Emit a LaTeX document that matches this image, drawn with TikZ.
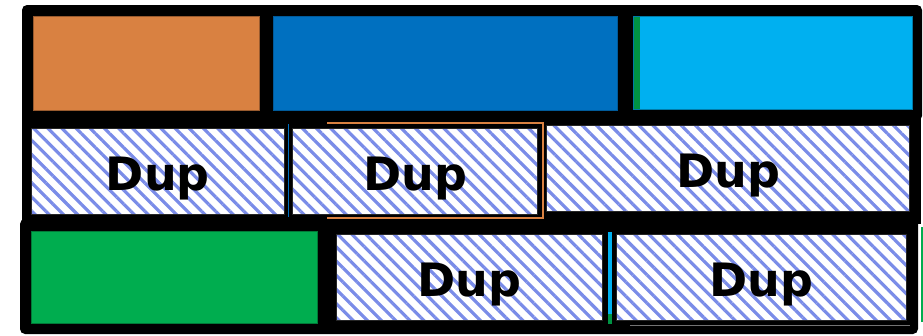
\documentclass[tikz,border=0pt]{standalone}
\usepackage{fontspec}
\setmainfont{DejaVu Sans}
\usetikzlibrary{fit,patterns.meta}
\definecolor{cOrange}{RGB}{217,129,65}
\definecolor{cBlue}{RGB}{0,112,192}
\definecolor{cCyan}{RGB}{0,176,240}
\definecolor{cGreen}{RGB}{0,173,79}
\definecolor{cHatch}{RGB}{122,140,232}
\tikzset{
  band/.style={fill=black,draw=none},
  solidbox/.style={inner sep=0pt,outer sep=0pt,line width=0.8pt},
  dupbox/.style={inner sep=0pt,outer sep=0pt,line width=0.8pt,draw=black!85,
    preaction={fill=white},
    pattern={Lines[angle=-45,distance=10pt,line width=3.2pt]},pattern color=cHatch},
  duptext/.style={anchor=base,inner sep=0pt,font=\bfseries\fontsize{46}{46}\selectfont},
  sliver/.style={draw=none},
}
\begin{document}
\begin{tikzpicture}[x=1pt,y=-1pt]
\useasboundingbox (0,0) rectangle (923,335);
% black frame bands
\fill[band,rounded corners=5pt] (22,5) rectangle (922,121);
\fill[band] (22,114) rectangle (921,224);
\fill[band,rounded corners=5pt] (20,219) rectangle (918,334);
% row 1
\node[solidbox,fill=cOrange,draw=cOrange!70!black,fit={(33.5,16.7) (259.3,110.5)}] (orange) {};
\node[solidbox,fill=cBlue,draw=cBlue!80!black,fit={(273.3,16.7) (617.7,110)}] (blue) {};
\node[solidbox,fill=cCyan,draw=cCyan!70!black,fit={(633.5,16) (912,109)}] (cyan) {};
\fill[cGreen!85!black,sliver] (634.3,16.5) rectangle (639.5,108.5);
% hidden slivers in row 2
\draw[cOrange,line width=1.1pt] (327,123) -- (543,123) -- (543,218) -- (327,218);
\draw[cBlue,line width=1pt] (288.5,124) -- (288.5,217);
% row 2
\node[dupbox,fit={(31.7,128.3) (284,214)}] (dup1) {};
\node[dupbox,fit={(292.7,128.3) (537.7,214)}] (dup2) {};
\node[dupbox,fit={(546.7,125) (909.3,211.7)}] (dup3) {};
\node[duptext] (t1) at (157.8,190) {Dup};
\node[duptext] (t2) at (415.2,190) {Dup};
\node[duptext] (t3) at (728.5,187) {Dup};
% row 3
\node[solidbox,fill=cGreen,draw=cGreen!70!black,fit={(31.7,231) (317.7,323.7)}] (green) {};
\fill[cCyan,sliver] (607.7,232) rectangle (612,314.3);
\fill[cGreen!85!black,sliver] (607.7,314.3) rectangle (612,323.7);
\node[dupbox,fit={(336.7,234.3) (602.7,320.3)}] (dup4) {};
\node[dupbox,fit={(616,234.3) (906.7,320.3)}] (dup5) {};
\draw[black!55,line width=0.8pt] (630,325) -- (910,325);
\draw[cGreen,line width=1.5pt] (921.8,227) -- (921.8,322);
\node[duptext] (t4) at (469.7,296) {Dup};
\node[duptext] (t5) at (761.4,296) {Dup};
\end{tikzpicture}
\end{document}
